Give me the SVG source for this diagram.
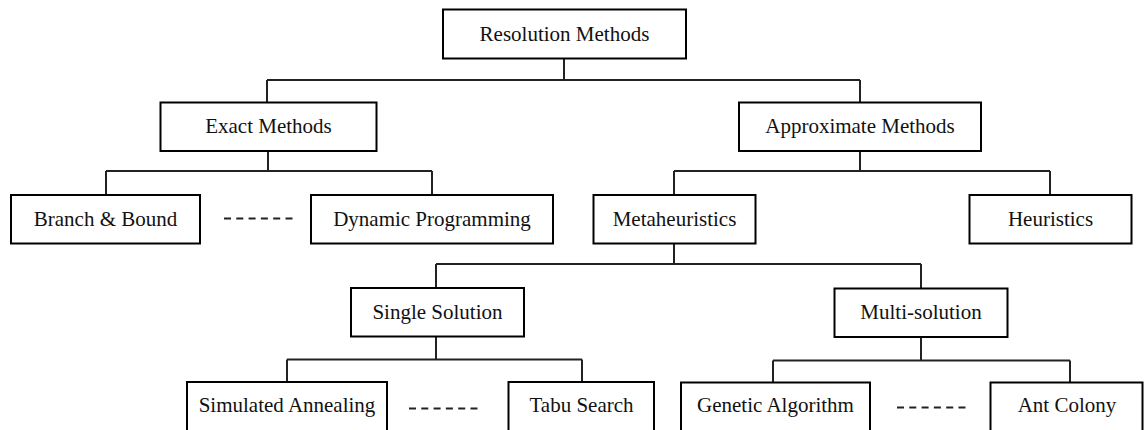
<svg xmlns="http://www.w3.org/2000/svg" width="1144" height="430" viewBox="0 0 1144 430">
  <style>
    .box { fill: #ffffff; stroke: #000000; stroke-width: 2; }
    .lbl { font-family: "Liberation Serif", "Times New Roman", serif; font-size: 21px; fill: #111111; text-anchor: middle; }
    .wire { fill: none; stroke: #222222; stroke-width: 2; }
    .dots { fill: none; stroke: #222222; stroke-width: 2; stroke-dasharray: 7 5.3; }
  </style>
  <rect width="1144" height="430" fill="#ffffff"/>

  <!-- tree connectors -->
  <g id="connectors">
    <!-- Resolution Methods -> Exact / Approximate -->
    <path class="wire" d="M564 58 V80 M267 80 H860 M267 80 V102 M860 80 V102"/>
    <!-- Exact Methods -> Branch & Bound / Dynamic Programming -->
    <path class="wire" d="M268 151 V171 M106 171 H432 M106 171 V195 M432 171 V195"/>
    <!-- Approximate Methods -> Metaheuristics / Heuristics -->
    <path class="wire" d="M860 151 V171 M674 171 H1050 M674 171 V195 M1050 171 V195"/>
    <!-- Metaheuristics -> Single Solution / Multi-solution -->
    <path class="wire" d="M674 243 V264 M436 264 H921 M436 264 V288 M921 264 V288"/>
    <!-- Single Solution -> Simulated Annealing / Tabu Search -->
    <path class="wire" d="M436 336 V359.5 M287 359.5 H582 M287 359.5 V382 M582 359.5 V382"/>
    <!-- Multi-solution -> Genetic Algorithm / Ant Colony -->
    <path class="wire" d="M921 336.5 V360.5 M773 360.5 H1070 M773 360.5 V382.5 M1070 360.5 V382.5"/>
    <!-- sibling ellipsis dashes -->
    <line class="dots" x1="224" y1="218.5" x2="294" y2="218.5"/>
    <line class="dots" x1="409" y1="408.5" x2="480" y2="408.5"/>
    <line class="dots" x1="897" y1="407.5" x2="967" y2="407.5"/>
  </g>

  <g id="resolution-methods">
    <rect class="box" x="443" y="9.5" width="243" height="49"/>
    <text class="lbl" x="564.5" y="41">Resolution Methods</text>
  </g>

  <g id="exact-methods">
    <rect class="box" x="160.5" y="102.5" width="216" height="48.5"/>
    <text class="lbl" x="268.5" y="133">Exact Methods</text>
  </g>

  <g id="approximate-methods">
    <rect class="box" x="739" y="102.5" width="242" height="48.5"/>
    <text class="lbl" x="860" y="133">Approximate Methods</text>
  </g>

  <g id="branch-and-bound">
    <rect class="box" x="11" y="195" width="189" height="48.5"/>
    <text class="lbl" x="105.5" y="225.5">Branch &amp; Bound</text>
  </g>

  <g id="dynamic-programming">
    <rect class="box" x="311" y="195" width="242" height="48.5"/>
    <text class="lbl" x="432" y="225.5">Dynamic Programming</text>
  </g>

  <g id="metaheuristics">
    <rect class="box" x="593.5" y="195" width="162" height="48.5"/>
    <text class="lbl" x="674.5" y="225.5">Metaheuristics</text>
  </g>

  <g id="heuristics">
    <rect class="box" x="969.5" y="195" width="162" height="48.5"/>
    <text class="lbl" x="1050.5" y="225.5">Heuristics</text>
  </g>

  <g id="single-solution">
    <rect class="box" x="351" y="288" width="173" height="48.5"/>
    <text class="lbl" x="437.5" y="318.5">Single Solution</text>
  </g>

  <g id="multi-solution">
    <rect class="box" x="834.5" y="288.5" width="173" height="48.5"/>
    <text class="lbl" x="921" y="319">Multi-solution</text>
  </g>

  <g id="simulated-annealing">
    <rect class="box" x="187" y="382" width="200" height="49"/>
    <text class="lbl" x="287" y="412">Simulated Annealing</text>
  </g>

  <g id="tabu-search">
    <rect class="box" x="508.5" y="382" width="145.5" height="49"/>
    <text class="lbl" x="581.5" y="412">Tabu Search</text>
  </g>

  <g id="genetic-algorithm">
    <rect class="box" x="681" y="382.5" width="189" height="49"/>
    <text class="lbl" x="775.5" y="412">Genetic Algorithm</text>
  </g>

  <g id="ant-colony">
    <rect class="box" x="990.5" y="382.5" width="152" height="49"/>
    <text class="lbl" x="1067" y="412">Ant Colony</text>
  </g>
</svg>
